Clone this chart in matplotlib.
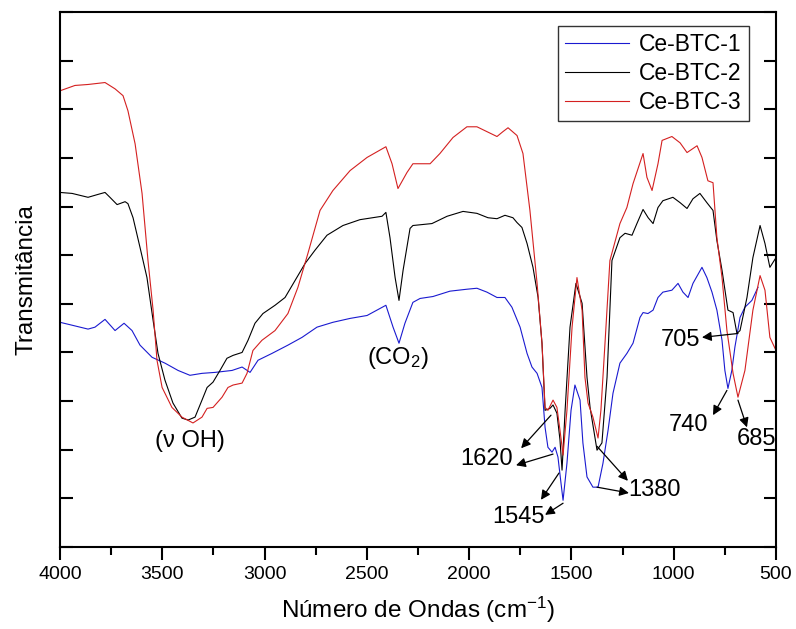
import matplotlib
matplotlib.use("Agg")
import matplotlib.pyplot as plt
from matplotlib.ticker import MultipleLocator, NullFormatter

plt.rcParams['font.family'] = ['Liberation Sans', 'DejaVu Sans']
plt.rcParams['mathtext.fontset'] = 'custom'
plt.rcParams['mathtext.rm'] = 'Liberation Sans'
plt.rcParams['mathtext.default'] = 'regular'

# Ce-BTC-1 (blue)
wn1 = [4000, 3941, 3863, 3829, 3780, 3731, 3687, 3648, 3609, 3550, 3487, 3423, 3365, 3306,
       3242, 3159, 3110, 3071, 3032, 2964, 2886, 2817, 2744, 2666, 2582, 2499, 2407, 2372,
       2343, 2314, 2275, 2240, 2177, 2094, 2011, 1962, 1913, 1864, 1825, 1791, 1751, 1717,
       1693, 1668, 1644, 1629, 1615, 1595, 1580, 1566, 1551, 1541, 1522, 1502, 1483, 1458,
       1444, 1424, 1395, 1370, 1346, 1321, 1297, 1263, 1229, 1199, 1165, 1150, 1126, 1101,
       1077, 1053, 1009, 979, 955, 930, 906, 862, 838, 813, 789, 764, 750, 735, 716, 701,
       676, 652, 618, 588]
t1 = [46.2, 45.6, 44.8, 45.2, 46.8, 44.5, 46.0, 44.5, 41.5, 39.0, 37.8, 36.3, 35.3, 35.7,
      35.9, 36.3, 37.0, 35.9, 38.4, 39.8, 41.5, 43.1, 45.2, 46.2, 47.0, 47.6, 49.7, 45.2,
      41.9, 46.0, 50.3, 51.1, 51.5, 52.6, 53.0, 53.2, 52.4, 51.3, 51.3, 49.3, 45.2, 39.8,
      37.0, 35.7, 32.8, 24.6, 20.5, 19.5, 20.5, 18.5, 13.1, 9.6, 17.2, 28.1, 33.3, 30.2,
      21.4, 14.4, 12.3, 12.3, 17.2, 24.0, 31.6, 37.8, 39.8, 41.9, 47.2, 48.2, 48.0, 48.7,
      51.3, 52.4, 52.8, 54.2, 52.4, 51.3, 54.2, 57.5, 55.4, 52.4, 48.7, 42.5, 36.3, 32.6,
      36.3, 41.1, 47.2, 49.3, 50.7, 53.4]

# Ce-BTC-2 (black)
wn2 = [4000, 3941, 3863, 3814, 3780, 3756, 3721, 3682, 3668, 3643, 3609, 3575, 3545, 3521,
       3487, 3448, 3404, 3374, 3340, 3306, 3281, 3252, 3218, 3184, 3154, 3110, 3081, 3047,
       3008, 2949, 2900, 2851, 2802, 2754, 2695, 2617, 2534, 2426, 2407, 2387, 2362, 2343,
       2323, 2289, 2275, 2182, 2108, 2030, 1962, 1908, 1864, 1825, 1786, 1766, 1742, 1717,
       1688, 1663, 1644, 1629, 1605, 1590, 1571, 1556, 1546, 1531, 1507, 1478, 1448, 1424,
       1409, 1375, 1351, 1326, 1302, 1263, 1238, 1204, 1180, 1150, 1125, 1101, 1077, 1053,
       1004, 969, 935, 906, 872, 838, 808, 789, 764, 735, 710, 691, 676, 642, 613, 578,
       554, 530, 500]
t2 = [72.9, 72.7, 71.9, 72.5, 72.9, 71.9, 70.4, 71.0, 70.6, 67.7, 61.6, 55.4, 46.6, 39.8,
      34.3, 29.6, 26.5, 26.1, 26.7, 30.2, 32.8, 33.9, 36.3, 38.8, 39.4, 40.0, 42.5, 46.0,
      48.0, 49.7, 51.3, 54.8, 58.3, 61.0, 64.1, 66.1, 67.3, 68.0, 68.8, 63.6, 55.4, 50.7,
      56.9, 65.5, 66.1, 66.5, 68.0, 69.0, 68.6, 67.7, 67.5, 68.2, 67.7, 66.7, 65.7, 62.4,
      57.5, 51.3, 41.9, 28.1, 28.5, 29.2, 27.5, 22.0, 15.8, 28.1, 45.2, 54.2, 50.1, 34.9,
      28.7, 19.9, 21.4, 34.9, 58.9, 63.6, 64.5, 64.1, 66.5, 69.4, 67.7, 66.5, 69.8, 71.2,
      71.9, 70.8, 69.6, 71.6, 72.7, 70.8, 69.2, 63.0, 56.9, 48.7, 48.2, 43.9, 44.5, 51.3,
      59.5, 66.1, 62.4, 57.5, 59.5]

# Ce-BTC-3 (red)
wn3 = [4000, 3927, 3863, 3780, 3731, 3692, 3668, 3633, 3599, 3570, 3545, 3526, 3501, 3453,
       3404, 3350, 3306, 3281, 3252, 3208, 3179, 3154, 3110, 3086, 3057, 3013, 2949, 2886,
       2837, 2788, 2729, 2666, 2582, 2499, 2407, 2377, 2348, 2304, 2275, 2191, 2143, 2079,
       2011, 1962, 1913, 1864, 1835, 1810, 1766, 1737, 1703, 1668, 1644, 1629, 1615, 1590,
       1571, 1556, 1541, 1522, 1497, 1473, 1448, 1434, 1419, 1395, 1370, 1356, 1336, 1312,
       1263, 1229, 1199, 1150, 1131, 1106, 1077, 1057, 1009, 969, 935, 886, 862, 833, 808,
       789, 764, 740, 710, 686, 652, 613, 578, 554, 530, 500]
t3 = [93.8, 94.9, 95.1, 95.5, 94.2, 92.8, 89.7, 82.9, 72.7, 58.9, 48.7, 38.4, 32.8, 28.7,
      26.7, 25.5, 26.7, 28.5, 28.7, 30.8, 32.8, 33.3, 33.7, 35.7, 40.4, 42.5, 44.5, 48.0,
      53.4, 60.4, 69.2, 73.3, 77.4, 80.1, 82.3, 78.8, 73.7, 77.0, 78.8, 78.8, 80.9, 84.2,
      86.4, 86.4, 85.4, 84.4, 85.4, 86.2, 84.6, 80.9, 69.2, 54.2, 41.9, 28.7, 28.1, 30.2,
      28.7, 24.0, 18.9, 28.1, 45.2, 55.4, 48.7, 34.9, 29.6, 26.7, 22.4, 28.1, 41.9, 58.9,
      66.5, 69.8, 74.7, 80.9, 76.0, 73.3, 78.8, 83.6, 84.4, 83.1, 81.1, 82.5, 80.1, 75.3,
      74.9, 63.6, 55.4, 44.5, 35.7, 30.8, 36.3, 48.7, 55.8, 52.8, 43.1, 40.4]

labels = ['Ce-BTC-1', 'Ce-BTC-2', 'Ce-BTC-3']
colors = ['#1a1ad0', '#000000', '#d42020']

# band labels: text, text position (wn, T)
band_text = ['(ν OH)', '(CO$_2$)', '1620', '1545', '1380', '705', '740', '685']
band_pos = [(3365, 21.8), (2348, 38.8), (1913, 18.1), (1761, 6.2),
            (1092, 11.7), (969, 42.5), (930, 25.0), (593, 22.2)]

# arrows: (start on curve) -> (end near label)
arrow_from = [(1600, 27.1), (1590, 19.1), (1561, 15.2), (1541, 9.0),
              (1375, 20.7), (1375, 12.3), (686, 43.9), (740, 32.2), (686, 30.2)]
arrow_to = [(1746, 20.3), (1771, 16.8), (1649, 9.7), (1629, 6.6),
            (1224, 13.6), (1219, 11.1), (862, 43.1), (808, 27.1), (642, 24.6)]

fig = plt.figure(figsize=(7.96, 6.29), dpi=100)
ax = fig.add_axes([0.0754, 0.1304, 0.8995, 0.8505])

for wn, t, lab, c in zip([wn1, wn2, wn3], [t1, t2, t3], labels, colors):
    ax.plot(wn, t, color=c, lw=0.8, label=lab)

ax.set_xlim(4000, 500)
ax.set_ylim(0, 110)

ax.xaxis.set_major_locator(MultipleLocator(500))
ax.xaxis.set_minor_locator(MultipleLocator(250))
ax.yaxis.set_major_locator(MultipleLocator(10))
ax.yaxis.set_major_formatter(NullFormatter())
ax.tick_params(axis='x', which='major', direction='out', length=9, width=1.5,
               labelsize=14, pad=5, top=False)
ax.tick_params(axis='x', which='minor', direction='out', length=6, width=1.5, top=False)
ax.tick_params(axis='y', which='major', direction='in', length=9, width=1.5,
               left=True, right=True)
for s in ax.spines.values():
    s.set_linewidth(1.5)

ax.set_xlabel('Número de Ondas (cm$^{-1}$)', fontsize=17.5, labelpad=8)
ax.set_ylabel('Transmitância', fontsize=17.5, labelpad=13)

for txt, (x, y) in zip(band_text, band_pos):
    ax.text(x, y, txt, fontsize=17, ha='center', va='center')

for (x0, y0), (x1, y1) in zip(arrow_from, arrow_to):
    ax.annotate('', xy=(x1, y1), xytext=(x0, y0),
                arrowprops=dict(arrowstyle='-|>', color='black', lw=0.9,
                                mutation_scale=14, shrinkA=0, shrinkB=0))

leg = ax.legend(loc='upper right', bbox_to_anchor=(0.962, 0.973), fontsize=16.5,
                frameon=True, fancybox=False, edgecolor='black', handlelength=2.8,
                handletextpad=0.45, borderpad=0.3, labelspacing=0.25, borderaxespad=0)
leg.get_frame().set_linewidth(1.0)

fig.savefig('out.png', dpi=100)
